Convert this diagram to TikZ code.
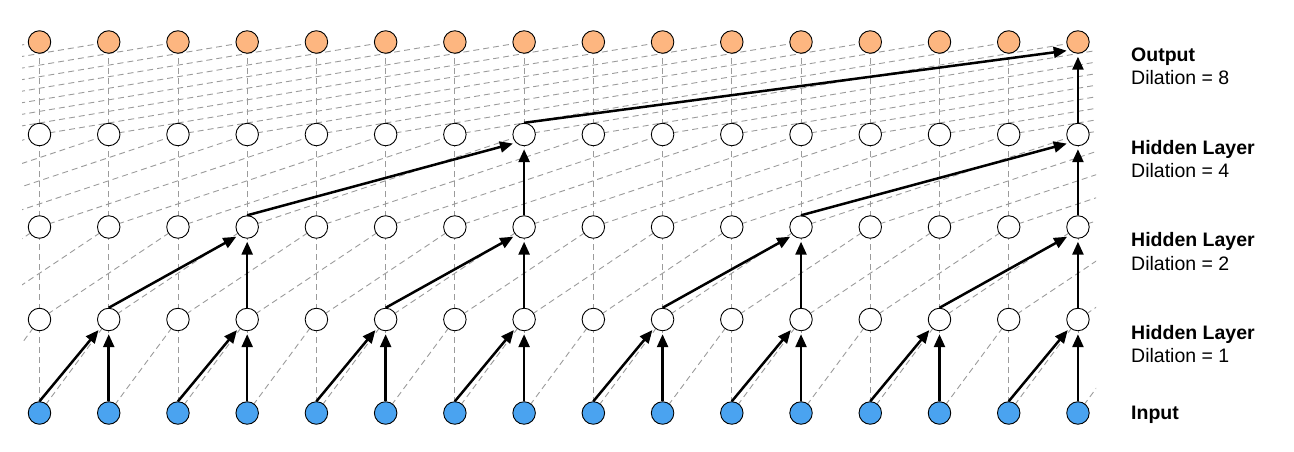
\documentclass[tikz,border=0pt]{standalone}
\usepackage{fontspec}
\setmainfont{Liberation Sans}
\usetikzlibrary{arrows.meta,calc}
\pgfdeclarelayer{background}
\pgfsetlayers{background,main}
\definecolor{outc}{RGB}{253,182,128}
\definecolor{inc}{RGB}{74,163,240}
\definecolor{dashc}{RGB}{155,155,155}
\tikzset{
 unit/.style={circle, draw=black, line width=0.9pt, minimum size=22.5pt, inner sep=0pt},
 inunit/.style={unit, fill=inc},
 hidunit/.style={unit, fill=white},
 outunit/.style={unit, fill=outc},
 conn/.style={draw=dashc, line width=0.9pt, dash pattern=on 6pt off 4pt},
 arr/.style={line width=2.5pt, -{Triangle[length=13pt,width=11pt]}, shorten >=3pt},
 lab/.style={anchor=base west, inner sep=0pt, font=\fontsize{19.5}{23}\selectfont},
 labb/.style={anchor=base west, inner sep=0pt, font=\fontsize{19.5}{23}\selectfont\bfseries},
}
\begin{document}
\begin{tikzpicture}[x=1pt,y=-1pt]
\useasboundingbox (0,0) rectangle (1294,452);
\foreach \r/\y in {0/413,1/319.5,2/227,3/134.5,4/42}{
  \foreach \c in {-8,...,23}{
    \coordinate (v-\r-\c) at ({39.5+69.23*\c},\y);
  }
}
\foreach \c in {0,...,15}{
  \node[inunit]  (n-0-\c) at (v-0-\c) {};
  \node[hidunit] (n-1-\c) at (v-1-\c) {};
  \node[hidunit] (n-2-\c) at (v-2-\c) {};
  \node[hidunit] (n-3-\c) at (v-3-\c) {};
  \node[outunit] (n-4-\c) at (v-4-\c) {};
}
\begin{pgfonlayer}{background}
\begin{scope}
\clip (22,0) rectangle (1096,452);
\foreach \s/\r in {0/1,1/2,2/3,3/4}{
  \foreach \c in {0,...,15}{
    \draw[conn] (v-\s-\c) -- (v-\r-\c);
  }
}
\foreach \r/\s/\d in {1/0/1,2/1/2,3/2/4,4/3/8}{
  \foreach \c in {-8,...,15}{
    \pgfmathtruncatemacro{\e}{\c+\d}
    \draw[conn] (v-\s-\c) -- (v-\r-\e);
  }
}
\end{scope}
\end{pgfonlayer}
% bold arrows
\foreach \b in {1,3,...,15}{
  \pgfmathtruncatemacro{\a}{\b-1}
  \draw[arr] (n-0-\a.north) -- (n-1-\b.south west);
  \draw[arr] (n-0-\b.north) -- (n-1-\b.south);
}
\foreach \b in {3,7,11,15}{
  \pgfmathtruncatemacro{\a}{\b-2}
  \draw[arr] (n-1-\a.north) -- (n-2-\b.south west);
  \draw[arr] (n-1-\b.north) -- (n-2-\b.south);
}
\foreach \b in {7,15}{
  \pgfmathtruncatemacro{\a}{\b-4}
  \draw[arr] (n-2-\a.north) -- (n-3-\b.south west);
  \draw[arr] (n-2-\b.north) -- (n-3-\b.south);
}
\draw[arr] (n-3-7.north) -- (n-4-15.south west);
\draw[arr] (n-3-15.north) -- (n-4-15.south);
% labels
\node[labb] (l4a) at (1131,62) {Output};
\node[lab]  (l4b) at (1131,84.5) {Dilation = 8};
\node[labb] (l3a) at (1131,154) {Hidden Layer};
\node[lab]  (l3b) at (1131,177) {Dilation = 4};
\node[labb] (l2a) at (1131,246) {Hidden Layer};
\node[lab]  (l2b) at (1131,270) {Dilation = 2};
\node[labb] (l1a) at (1131,339) {Hidden Layer};
\node[lab]  (l1b) at (1131,362) {Dilation = 1};
\node[labb] (l0a) at (1131,419) {Input};
\end{tikzpicture}
\end{document}
